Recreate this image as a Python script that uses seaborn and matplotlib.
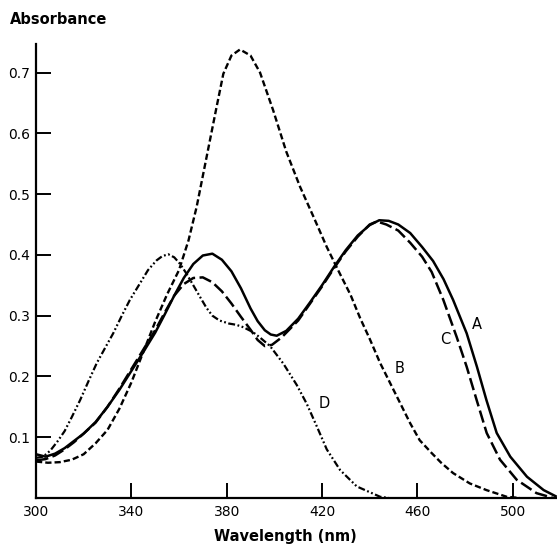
import numpy as np
import pandas as pd
import matplotlib
matplotlib.use("Agg")
import matplotlib.pyplot as plt
import seaborn as sns

# wavelength (nm) / absorbance
wl_a = [300, 304, 308, 312, 316, 320, 325, 330, 335, 340, 345, 350, 354, 358, 362, 366,
        370, 374, 378, 382, 386, 390, 393, 396, 398.5, 401, 405, 410, 415, 420, 425, 430,
        435, 440, 444, 448, 452, 457, 462, 466.6, 471, 475, 480.7, 485, 489, 493.3, 499,
        506, 513, 518.5]
abs_a = [0.072, 0.068, 0.073, 0.082, 0.094, 0.106, 0.125, 0.150, 0.178, 0.209, 0.240,
         0.272, 0.302, 0.333, 0.362, 0.385, 0.399, 0.402, 0.392, 0.373, 0.345, 0.312,
         0.291, 0.276, 0.269, 0.267, 0.275, 0.295, 0.322, 0.350, 0.380, 0.408, 0.432,
         0.449, 0.457, 0.456, 0.450, 0.436, 0.413, 0.390, 0.360, 0.326, 0.271, 0.216,
         0.161, 0.107, 0.068, 0.035, 0.013, 0.002]

wl_b = [300, 305, 310, 315, 320, 325, 330, 335, 340, 345, 350, 355, 360, 364, 367.4,
        370.2, 373, 375.8, 378.6, 382, 385.6, 390, 394, 399.5, 405, 410.8, 416.4, 422,
        427, 432, 436, 440, 444.4, 451.4, 457, 461, 466, 470, 475, 482, 489, 497.5, 503]
abs_b = [0.060, 0.058, 0.059, 0.063, 0.072, 0.090, 0.112, 0.147, 0.190, 0.240, 0.290,
         0.335, 0.375, 0.424, 0.479, 0.534, 0.589, 0.644, 0.698, 0.728, 0.738, 0.728,
         0.700, 0.638, 0.570, 0.512, 0.463, 0.413, 0.373, 0.334, 0.296, 0.262, 0.222,
         0.167, 0.123, 0.095, 0.074, 0.058, 0.041, 0.024, 0.013, 0.002, 0.0]

wl_c = [300, 304, 308, 312, 316, 320, 325, 330, 335, 340, 345, 350, 354, 358, 362, 366,
        370, 374, 378, 382, 386, 390, 393, 396, 399, 403, 407, 410, 415, 420, 425, 430,
        435, 440, 443, 447, 452, 457, 462, 466, 470.9, 476.5, 480.7, 484.9, 489.1,
        494.7, 501.7, 510, 517]
abs_c = [0.062, 0.064, 0.070, 0.080, 0.092, 0.106, 0.124, 0.150, 0.180, 0.212, 0.244,
         0.276, 0.305, 0.333, 0.352, 0.362, 0.363, 0.355, 0.340, 0.320, 0.298, 0.277,
         0.260, 0.250, 0.252, 0.264, 0.280, 0.292, 0.320, 0.348, 0.378, 0.406, 0.430,
         0.450, 0.455, 0.450, 0.440, 0.420, 0.397, 0.372, 0.326, 0.265, 0.216, 0.161,
         0.107, 0.063, 0.030, 0.008, 0.0]

wl_d = [300, 303, 306, 309, 312, 315, 318.5, 322, 325.5, 329, 332.4, 336, 339.4, 343.6,
        347, 350.6, 353, 355.5, 358, 360.5, 363, 366, 368.8, 371.5, 374, 377, 381, 384,
        387, 391, 394, 398.2, 403.8, 409.4, 413.6, 417.8, 422, 427.6, 434.6, 444.4, 448]
abs_d = [0.066, 0.068, 0.078, 0.093, 0.110, 0.133, 0.161, 0.192, 0.222, 0.247, 0.271,
         0.300, 0.326, 0.353, 0.375, 0.391, 0.398, 0.401, 0.396, 0.385, 0.370, 0.350,
         0.331, 0.313, 0.300, 0.292, 0.287, 0.285, 0.281, 0.273, 0.264, 0.250, 0.221,
         0.186, 0.155, 0.118, 0.080, 0.046, 0.019, 0.002, 0.0]

curve_names = ["A", "B", "C", "D"]
label_pos = {"A": (485, 0.285), "B": (452.7, 0.213), "C": (471.6, 0.26), "D": (420.9, 0.156)}

x_ticks = [300, 340, 380, 420, 460, 500]
y_ticks = [0.1, 0.2, 0.3, 0.4, 0.5, 0.6, 0.7]

sns.set_style("ticks")
plt.rcParams["font.family"] = ["DejaVu Sans"]
plt.rcParams["lines.scale_dashes"] = False
plt.rcParams["text.color"] = "black"

fig = plt.figure(figsize=(5.57, 5.46), dpi=100)
ax = fig.add_axes([36 / 557, 48 / 546, 521 / 557, 454 / 546])

styles = {
    "A": dict(linestyle="-", linewidth=1.8),
    "B": dict(linestyle=(0, (4.5, 2.2)), linewidth=1.7),
    "C": dict(linestyle=(0, (9, 3.2)), linewidth=1.8),
    "D": dict(linestyle=(0, (5, 1.8, 1.3, 1.8, 1.3, 1.8)), linewidth=1.6),
}
data = {"A": (wl_a, abs_a), "B": (wl_b, abs_b), "C": (wl_c, abs_c), "D": (wl_d, abs_d)}

for name in curve_names:
    wl, ab = data[name]
    df = pd.DataFrame({"wavelength": wl, "absorbance": ab})
    sns.lineplot(data=df, x="wavelength", y="absorbance", ax=ax, color="black",
                 solid_capstyle="butt", dash_capstyle="butt", **styles[name])
    ax.text(*label_pos[name], name, fontsize=10.5, ha="center", va="center", color="black")

ax.set_xlim(300, 518.6)
ax.set_ylim(0, 0.747)
ax.set_xticks(x_ticks)
ax.set_yticks(y_ticks)
ax.set_xticklabels([str(t) for t in x_ticks])
ax.set_yticklabels([f"{t:.1f}" for t in y_ticks])
ax.set_xlabel("")
ax.set_ylabel("")
ax.tick_params(direction="in", length=11, width=1.4, labelsize=10, colors="black", pad=4)
ax.tick_params(axis="x", pad=5)
sns.despine(ax=ax)
for side in ["left", "bottom"]:
    ax.spines[side].set_linewidth(1.6)
    ax.spines[side].set_color("black")

fig.text(10 / 557, 1 - 20 / 546, "Absorbance", fontsize=10.5, fontweight="bold",
         ha="left", va="center", color="black")
fig.text(285 / 557, 1 - 537 / 546, "Wavelength (nm)", fontsize=10.5, fontweight="bold",
         ha="center", va="center", color="black")

fig.savefig("out.png", dpi=100, facecolor="white")
